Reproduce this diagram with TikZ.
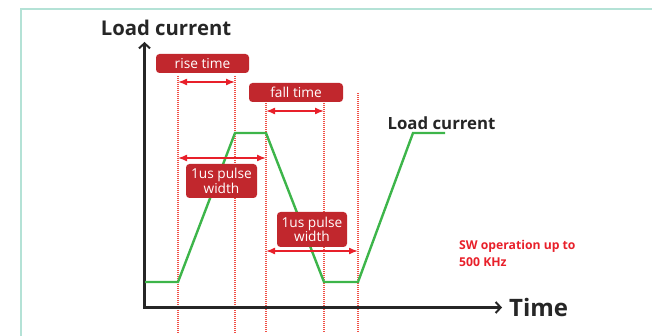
\documentclass[tikz,border=0pt]{standalone}
\usepackage{fontspec}
\setmainfont{Open Sans}
\usetikzlibrary{arrows.meta}
\definecolor{framec}{RGB}{180,226,214}
\definecolor{axisc}{RGB}{38,38,38}
\definecolor{curvec}{RGB}{61,181,74}
\definecolor{boxred}{RGB}{193,39,45}
\definecolor{arrred}{RGB}{232,32,42}
\definecolor{dotred}{RGB}{240,80,70}
\begin{document}
\begin{tikzpicture}[x=1pt,y=-1pt,
  axisline/.style={draw=axisc,line width=2.6pt,line join=miter,
    {Straight Barb[length=5pt,width=11pt,line width=2pt]}-{Straight Barb[length=5pt,width=11pt,line width=2pt]}},
  curveline/.style={draw=curvec,line width=2.4pt,line join=miter},
  guide/.style={draw=dotred,line width=1.1pt,dash pattern=on 1pt off 1pt},
  span/.style={draw=arrred,line width=1.5pt,{Latex[length=9pt,width=7pt]}-{Latex[length=9pt,width=7pt]}},
  tag/.style={fill=boxred,rounded corners=3.5pt,text=white,inner sep=0pt,align=center,
    font=\fontsize{13.7}{12.5}\selectfont},
  lbl/.style={text=axisc,font=\bfseries\fontsize{20.3}{22}\selectfont,inner sep=0pt}]
\useasboundingbox (0,0) rectangle (652,336);
\draw[framec,line width=1.5pt] (21,336) -- (21,9) -- (652,9);
% guides
\foreach \n/\x/\t in {1/178/76,2/235/76,3/266/103,4/324/103,5/358/93}{
  \coordinate (t\n) at (\x,\t);
  \coordinate (b\n) at (\x,333);
  \draw[guide] (t\n) -- (b\n);
}
% axes
\coordinate (o) at (144.5,307.5);
\coordinate (ytip) at (144.5,42);
\coordinate (xtip) at (502,307.5);
\draw[axisline] (ytip) -- (o) -- (xtip);
% curve
\coordinate (c0) at (145,282);
\coordinate (c1) at (178,282);
\coordinate (c2) at (235,133);
\coordinate (c3) at (266,133);
\coordinate (c4) at (324,282);
\coordinate (c5) at (358,282);
\coordinate (c6) at (413,133);
\coordinate (c7) at (445,133);
\draw[curveline] (c0) -- (c1) -- (c2) -- (c3) -- (c4) -- (c5) -- (c6) -- (c7);
% spans
\coordinate (ra) at (178,82);  \coordinate (rb) at (235,82);
\coordinate (fa) at (266,111); \coordinate (fb) at (324,111);
\coordinate (pa) at (178,158); \coordinate (pb) at (266,158);
\coordinate (qa) at (266,251); \coordinate (qb) at (358,251);
\draw[span] (ra) -- (rb);
\draw[span] (fa) -- (fb);
\draw[span] (pa) -- (pb);
\draw[span] (qa) -- (qb);
% tags
\node[tag,minimum width=93pt,minimum height=19pt] (rise) at (202.5,63.5) {rise time};
\node[tag,minimum width=94pt,minimum height=19pt] (fall) at (296,92.5) {fall time};
\node[tag,minimum width=71pt,minimum height=34pt] (pw1) at (221.5,181) {1us pulse\\width};
\node[tag,minimum width=70pt,minimum height=35pt] (pw2) at (312,229.5) {1us pulse\\width};
% labels
\node[lbl] (ylab) at (166,28) {Load current};
\node[lbl,anchor=west,font=\bfseries\fontsize{24}{26}\selectfont] (xlab) at (509,307) {Time};
\node[lbl,font=\bfseries\fontsize{16.8}{18}\selectfont] (curlab) at (441.5,123) {Load current};
\node[inner sep=0pt,anchor=north west,align=left,text=arrred,font=\bfseries\fontsize{12.2}{17}\selectfont] (sw) at (459,240) {SW operation up to\\500 KHz};
\end{tikzpicture}
\end{document}
